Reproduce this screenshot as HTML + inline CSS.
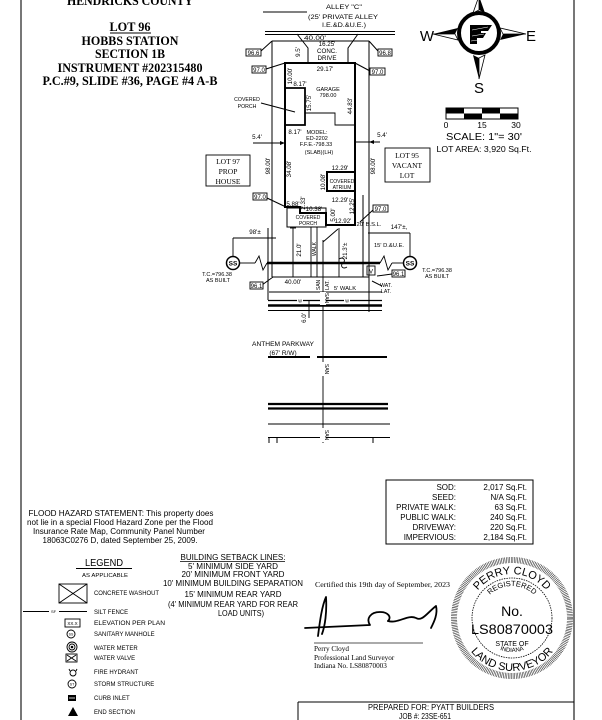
<!DOCTYPE html>
<html><head><meta charset="utf-8">
<style>
html,body{margin:0;padding:0;background:#fff;}
svg{display:block}
text{font-family:"Liberation Sans",Arial,sans-serif;fill:#000}
.s text,text.s{font-family:"Liberation Serif","Times New Roman",serif}
</style></head><body>
<svg width="602" height="720" viewBox="0 0 602 720" xmlns="http://www.w3.org/2000/svg">
<defs>
<path id="pTop" d="M468,618 A44,44 0 0 1 556,618"/>
<path id="pBot" d="M459,618 A53,53 0 0 0 565,618"/>
<path id="pReg" d="M480,618 A32,32 0 0 1 544,618"/>
<path id="pInd" d="M478,618 A34,34 0 0 0 546,618"/>
</defs>
<rect width="602" height="720" fill="#fff"/>
<line x1="21" y1="0" x2="21" y2="720" stroke="#777" stroke-width="2"/>
<line x1="574" y1="0" x2="574" y2="720" stroke="#777" stroke-width="2"/>

<!-- Title -->
<g class="s" font-weight="bold" text-anchor="middle" font-size="12.5">
<text x="130" y="5" textLength="126" lengthAdjust="spacingAndGlyphs">HENDRICKS COUNTY</text>
<text x="130" y="31" textLength="41" lengthAdjust="spacingAndGlyphs">LOT 96</text>
<text x="130" y="45" textLength="97" lengthAdjust="spacingAndGlyphs">HOBBS STATION</text>
<text x="130" y="58" textLength="70" lengthAdjust="spacingAndGlyphs">SECTION 1B</text>
<text x="130" y="72" textLength="145" lengthAdjust="spacingAndGlyphs">INSTRUMENT #202315480</text>
<text x="130" y="85" textLength="175" lengthAdjust="spacingAndGlyphs">P.C.#9, SLIDE #36, PAGE #4 A-B</text>
</g>
<line x1="110" y1="33" x2="151" y2="33" stroke="#000" stroke-width="1"/>

<!-- Compass -->
<g>
<circle cx="479" cy="33" r="20" fill="none" stroke="#000" stroke-width="4"/>
<circle cx="479" cy="33" r="17" fill="#fff"/>
<polygon points="479,-4 473,13 479,10" fill="#fff" stroke="#000" stroke-width="0.8"/>
<polygon points="479,-4 485,13 479,10" fill="#000"/>
<polygon points="433,34 458,28 455,34" fill="#000"/>
<polygon points="433,34 455,34 458,40" fill="#fff" stroke="#000" stroke-width="0.8"/>
<polygon points="526,34 500,28 503,34" fill="#fff" stroke="#000" stroke-width="0.8"/>
<polygon points="526,34 503,34 500,40" fill="#000"/>
<polygon points="479,79 473,55 479,58" fill="#000"/>
<polygon points="479,79 485,55 479,58" fill="#fff" stroke="#000" stroke-width="0.8"/>
<path d="M470,25 L492,25 L488,31 L481,31 L481,33 L486,33 L483,38 L477,38 L477,44 L470,44 Z" fill="#000"/>
<line x1="472" y1="30" x2="488" y2="27" stroke="#fff" stroke-width="0.6"/>
<line x1="472" y1="36" x2="484" y2="34" stroke="#fff" stroke-width="0.6"/>
<line x1="471" y1="41" x2="478" y2="40" stroke="#fff" stroke-width="0.6"/>
<text x="427" y="41" font-size="15" text-anchor="middle">W</text>
<text x="531" y="41" font-size="15" text-anchor="middle">E</text>
<text x="479" y="93" font-size="15" text-anchor="middle">S</text>
</g>

<!-- Scale bar -->
<g stroke="none">
<rect x="446" y="108" width="72" height="11" fill="#fff" stroke="#000" stroke-width="1"/>
<rect x="446" y="108" width="18" height="5.5" fill="#000"/>
<rect x="482" y="108" width="18" height="5.5" fill="#000"/>
<rect x="464" y="113.5" width="18" height="5.5" fill="#000"/>
<rect x="500" y="113.5" width="18" height="5.5" fill="#000"/>
</g>
<text x="446" y="128" font-size="8.5" text-anchor="middle">0</text>
<text x="482" y="128" font-size="8.5" text-anchor="middle">15</text>
<text x="516" y="128" font-size="8.5" text-anchor="middle">30</text>
<text x="484" y="140" font-size="10" text-anchor="middle" textLength="76" lengthAdjust="spacingAndGlyphs">SCALE:  1"=  30'</text>
<text x="484" y="152" font-size="8.5" text-anchor="middle" textLength="95" lengthAdjust="spacingAndGlyphs">LOT AREA: 3,920 Sq.Ft.</text>

<!-- Alley -->
<line x1="263" y1="12" x2="307" y2="12" stroke="#000" stroke-width="0.9"/>
<g font-size="6.5" text-anchor="middle">
<text x="344" y="9" textLength="36" lengthAdjust="spacingAndGlyphs">ALLEY "C"</text>
<text x="343" y="19" textLength="70" lengthAdjust="spacingAndGlyphs">(25' PRIVATE ALLEY</text>
<text x="344" y="27" textLength="44" lengthAdjust="spacingAndGlyphs">I.E.&amp;D.&amp;U.E.)</text>
<text x="315" y="40" textLength="22" lengthAdjust="spacingAndGlyphs">40.00'</text>
</g>
<line x1="265" y1="31.5" x2="395" y2="31.5" stroke="#000" stroke-width="0.9"/>
<line x1="265" y1="34.5" x2="395" y2="34.5" stroke="#000" stroke-width="0.9"/>

<!-- Lot lines -->
<g stroke="#000" stroke-width="1" fill="none">
<line x1="272" y1="41" x2="369" y2="41"/>
<line x1="272" y1="41" x2="272" y2="277"/>
<line x1="369" y1="41" x2="369" y2="312"/>
<line x1="363" y1="195" x2="363" y2="277"/>
<line x1="268" y1="228" x2="268" y2="300"/>
<line x1="272" y1="277" x2="369" y2="277"/>
<polyline points="297,34 308,48 308,63"/>
<polyline points="358,34 348,48 348,63"/>
<line x1="261" y1="51" x2="272" y2="41"/>
<line x1="369" y1="41" x2="378" y2="51"/>
<line x1="266" y1="69" x2="285" y2="63"/>
<line x1="355" y1="63" x2="370" y2="71"/>
<line x1="267" y1="198" x2="286" y2="207"/>
<line x1="373" y1="210" x2="360" y2="222"/>
<line x1="262" y1="285" x2="273" y2="277"/>
<line x1="392" y1="274" x2="377" y2="276"/>
<line x1="261" y1="103" x2="295" y2="112"/>
<line x1="372" y1="281" x2="382" y2="286"/>
<line x1="253" y1="143" x2="285" y2="143"/>
<line x1="356" y1="142" x2="380" y2="142"/>
</g>
<polygon points="369,142 374,140 374,144" fill="#000"/>
<polygon points="285,143 280,141 280,145" fill="#000"/>

<!-- House -->
<g stroke="#000" fill="none">
<path d="M285,63 H355 V225 H326 V213 H300 V207 H285 Z" stroke-width="2"/>
<path d="M285,88 H305 V125 H285" stroke-width="1.8"/>
<path d="M305,113 H335 V125 H355" stroke-width="0.9"/>
<path d="M355,172 H327 V191 H355" stroke-width="2"/>
<rect x="287" y="208" width="39" height="19" stroke-width="1"/>
</g>

<!-- Elevation boxes -->
<g font-size="6" text-anchor="middle">
<rect x="246" y="49" width="15" height="7" fill="#fff" stroke="#000" stroke-width="0.9"/><text x="253.5" y="55">96.6</text>
<rect x="378" y="49" width="14" height="7" fill="#fff" stroke="#000" stroke-width="0.9"/><text x="385" y="55">96.8</text>
<rect x="252" y="66" width="14" height="7" fill="#fff" stroke="#000" stroke-width="0.9"/><text x="259" y="72">97.0</text>
<rect x="370" y="68" width="15" height="7" fill="#fff" stroke="#000" stroke-width="0.9"/><text x="377.5" y="74">97.0</text>
<rect x="253" y="193" width="14" height="7" fill="#fff" stroke="#000" stroke-width="0.9"/><text x="260" y="199">97.0</text>
<rect x="373" y="205" width="15" height="7" fill="#fff" stroke="#000" stroke-width="0.9"/><text x="380.5" y="211">97.0</text>
<rect x="250" y="282" width="13" height="7" fill="#fff" stroke="#000" stroke-width="0.9"/><text x="256.5" y="288">96.1</text>
<rect x="392" y="270" width="13" height="7" fill="#fff" stroke="#000" stroke-width="0.9"/><text x="398.5" y="276">96.1</text>
</g>

<!-- Plat labels -->
<g font-size="6.2" text-anchor="middle">
<text x="327" y="46">16.25'</text>
<text x="327" y="53">CONC.</text>
<text x="327" y="60">DRIVE</text>
<text transform="translate(300,52) rotate(-90)">9.5'</text>
<text x="325" y="71">29.17'</text>
<text transform="translate(292,76) rotate(-90)">10.00'</text>
<text x="300" y="86">8.17'</text>
<text x="328" y="91" font-size="5.5">GARAGE</text>
<text x="328" y="97" font-size="5.5">798.00</text>
<text transform="translate(311,103) rotate(-90)">15.75'</text>
<text transform="translate(352,106) rotate(-90)">44.83'</text>
<text x="247" y="101" font-size="5.2">COVERED</text>
<text x="247" y="108" font-size="5.2">PORCH</text>
<text x="295" y="134">8.17'</text>
<text x="317" y="134" font-size="5.5">MODEL:</text>
<text x="317" y="140" font-size="5.5">ED-2202</text>
<text x="316" y="146" font-size="5.5">F.F.E.-798.33</text>
<text x="319" y="154" font-size="5.5">(SLAB)(LH)</text>
<text x="257" y="139">5.4'</text>
<text x="382" y="137">5.4'</text>
<text transform="translate(291,169) rotate(-90)">34.08'</text>
<text transform="translate(270,166) rotate(-90)">98.00'</text>
<text transform="translate(375,166) rotate(-90)">98.00'</text>
<text x="340" y="170">12.29'</text>
<text transform="translate(325,182) rotate(-90)">10.08'</text>
<text x="342" y="183" font-size="5">COVERED</text>
<text x="342" y="189" font-size="5">ATRIUM</text>
<text x="340" y="202">12.29'</text>
<text transform="translate(354,206) rotate(-90)">12.25'</text>
<text x="293" y="206">5.88'</text>
<text transform="translate(305,203) rotate(-90)">2.33'</text>
<text x="314" y="211">10.38'</text>
<text x="308" y="219" font-size="5">COVERED</text>
<text x="308" y="225" font-size="5">PORCH</text>
<text transform="translate(335,215) rotate(-90)">5.00'</text>
<text x="343" y="223">12.92'</text>
<text x="369" y="226" font-size="5.8">20' B.S.L.</text>
<text x="399" y="229">147'±,</text>
<text x="255" y="234">98'±</text>
<text x="389" y="247" font-size="5.8">15' D.&amp;U.E.</text>
<text transform="translate(301,250) rotate(-90)">21.0'</text>
<text transform="translate(316,249) rotate(-90)" font-size="5">WALK</text>
<text transform="translate(347,251) rotate(-90)">21.3'±</text>
<text x="217" y="276" font-size="5.5">T.C.=796.38</text>
<text x="218" y="282" font-size="5.5">AS BUILT</text>
<text x="437" y="272" font-size="5.5">T.C.=796.38</text>
<text x="437" y="278" font-size="5.5">AS BUILT</text>
<text x="293" y="284">40.00'</text>
<text transform="translate(320,285) rotate(-90)" font-size="5">SAN</text>
<text transform="translate(329,285) rotate(-90)" font-size="5">LAT.</text>
<text x="345" y="290" font-size="5.8">5' WALK</text>
<text x="386" y="287" font-size="5.2">WAT.</text>
<text x="386" y="293" font-size="5.2">LAT.</text>
<text transform="translate(306,318) rotate(-90)">6.0'</text>
<text x="283" y="346" font-size="6.5" textLength="62" lengthAdjust="spacingAndGlyphs">ANTHEM PARKWAY</text>
<text x="283" y="355" font-size="6.5">(67' R/W)</text>
</g>

<!-- Lot boxes -->
<g class="s" font-size="7.5" text-anchor="middle">
<rect x="206" y="155" width="44" height="31" fill="#fff" stroke="#000" stroke-width="0.9"/>
<text x="228" y="164">LOT 97</text>
<text x="228" y="174">PROP</text>
<text x="228" y="184">HOUSE</text>
<rect x="385" y="148" width="45" height="34" fill="#fff" stroke="#000" stroke-width="0.9"/>
<text x="407" y="158">LOT 95</text>
<text x="407" y="168">VACANT</text>
<text x="407" y="178">LOT</text>
</g>

<!-- Lower dims & utilities -->
<g stroke="#000" stroke-width="0.9" fill="none">
<line x1="233" y1="238" x2="276" y2="238"/>
<line x1="233" y1="238" x2="233" y2="256"/>
<line x1="368" y1="233" x2="410" y2="233"/>
<line x1="410" y1="233" x2="410" y2="256"/>
<line x1="293" y1="228" x2="293" y2="277"/>
<line x1="290" y1="228" x2="296" y2="228"/>
<line x1="311" y1="227" x2="311" y2="277"/>
<line x1="317" y1="227" x2="317" y2="277"/>
<line x1="339" y1="228" x2="339" y2="277"/>
<line x1="323" y1="242" x2="338" y2="229"/>
<line x1="323" y1="240" x2="323" y2="443"/>
<line x1="240" y1="263" x2="255" y2="263"/>
<polyline points="255,263 259,256 263,270 267,263"/>
<polyline points="380,263 384,256 388,270 392,263"/>
<line x1="392" y1="263" x2="404" y2="263"/>
<line x1="269" y1="292" x2="382" y2="292"/>
<path d="M339,259 C344,256 346,261 343,263 C340,265 342,270 347,267"/>
<rect x="367" y="266" width="8" height="9"/>
<line x1="309" y1="300" x2="309" y2="318"/>
</g>
<line x1="267" y1="263" x2="380" y2="263" stroke="#000" stroke-width="2.5"/>
<text x="371" y="273.5" font-size="6" text-anchor="middle">V</text>
<circle cx="233" cy="263" r="6.5" fill="#fff" stroke="#000" stroke-width="1.5"/>
<circle cx="410" cy="263" r="6.5" fill="#fff" stroke="#000" stroke-width="1.5"/>
<text x="233" y="265.5" font-size="6.5" font-weight="bold" text-anchor="middle">SS</text>
<text x="410" y="265.5" font-size="6.5" font-weight="bold" text-anchor="middle">SS</text>

<!-- Road -->
<g stroke="#000" fill="none">
<line x1="268" y1="300.5" x2="382" y2="300.5" stroke-width="1.2"/>
<line x1="268" y1="305.5" x2="382" y2="305.5" stroke-width="2.5"/>
<line x1="268" y1="310.5" x2="382" y2="310.5" stroke-width="1"/>
<line x1="268" y1="357" x2="310" y2="357" stroke-width="2"/>
<line x1="317" y1="357" x2="387" y2="357" stroke-width="2"/>
<line x1="268" y1="404" x2="388" y2="404" stroke-width="2.2"/>
<line x1="268" y1="408.5" x2="388" y2="408.5" stroke-width="2.2"/>
<line x1="268" y1="424" x2="390" y2="424" stroke-width="1"/>
<line x1="268" y1="437.5" x2="390" y2="437.5" stroke-width="1"/>
<line x1="269" y1="437" x2="269" y2="443" stroke-width="1"/>
<line x1="277" y1="437" x2="277" y2="443" stroke-width="1"/>
<line x1="373" y1="437" x2="373" y2="443" stroke-width="1"/>
</g>
<rect x="297" y="298" width="6" height="5" fill="#fff"/>
<rect x="344" y="298" width="6" height="5" fill="#fff"/>
<text x="300" y="302.5" font-size="5" text-anchor="middle">w</text>
<text x="347" y="302.5" font-size="5" text-anchor="middle">w</text>
<rect x="320" y="362" width="6" height="14" fill="#fff"/>
<rect x="320" y="428" width="6" height="14" fill="#fff"/>
<rect x="320" y="292" width="6" height="13" fill="#fff"/>
<text transform="translate(325,369) rotate(90)" font-size="5" text-anchor="middle">SAN</text>
<text transform="translate(325,435) rotate(90)" font-size="5" text-anchor="middle">SAN</text>
<text transform="translate(325,298) rotate(90)" font-size="5" text-anchor="middle">SAN</text>

<!-- Flood statement -->
<g font-size="8" text-anchor="middle">
<text x="121" y="516" textLength="185" lengthAdjust="spacingAndGlyphs">FLOOD HAZARD STATEMENT: This property does</text>
<text x="120" y="525" textLength="186" lengthAdjust="spacingAndGlyphs">not lie in a special Flood Hazard Zone per the Flood</text>
<text x="119" y="534" textLength="172" lengthAdjust="spacingAndGlyphs">Insurance Rate Map, Community Panel Number</text>
<text x="120" y="543" textLength="155" lengthAdjust="spacingAndGlyphs">18063C0276 D, dated September 25, 2009.</text>
</g>

<!-- Area table -->
<rect x="386" y="480" width="147" height="64" fill="none" stroke="#000" stroke-width="1"/>
<g font-size="8" text-anchor="end">
<text x="456" y="490">SOD:</text><text x="527" y="490">2,017 Sq.Ft.</text>
<text x="456" y="500">SEED:</text><text x="527" y="500">N/A Sq.Ft.</text>
<text x="456" y="510">PRIVATE WALK:</text><text x="527" y="510">63 Sq.Ft.</text>
<text x="456" y="520">PUBLIC WALK:</text><text x="527" y="520">240 Sq.Ft.</text>
<text x="456" y="530">DRIVEWAY:</text><text x="527" y="530">220 Sq.Ft.</text>
<text x="456" y="540">IMPERVIOUS:</text><text x="527" y="540">2,184 Sq.Ft.</text>
</g>

<!-- Legend -->
<text x="104" y="566" font-size="10" text-anchor="middle" textLength="38" lengthAdjust="spacingAndGlyphs">LEGEND</text>
<line x1="76" y1="568.5" x2="132" y2="568.5" stroke="#000" stroke-width="1"/>
<text x="105" y="577" font-size="5.5" text-anchor="middle" textLength="46" lengthAdjust="spacingAndGlyphs">AS APPLICABLE</text>
<g stroke="#000" fill="none" stroke-width="0.9">
<rect x="59" y="584" width="28" height="19"/>
<line x1="59" y1="584" x2="87" y2="603"/>
<line x1="87" y1="584" x2="59" y2="603"/>
<line x1="23" y1="611.5" x2="49" y2="611.5"/>
<line x1="59" y1="611.5" x2="87" y2="611.5"/>
<rect x="65" y="619" width="15" height="8"/>
<circle cx="71" cy="634" r="4"/>
<circle cx="72" cy="647" r="5"/>
<circle cx="72" cy="647" r="3"/>
<rect x="66" y="654" width="11" height="8"/>
<path d="M67,655 L76,661 M67,661 L76,655"/>
<circle cx="73" cy="673" r="3"/>
<path d="M69,669 L70,671 M77,669 L76,671"/>
<circle cx="72" cy="684" r="4"/>
</g>
<circle cx="72" cy="647" r="1.3" fill="#000"/>
<rect x="68" y="695" width="8" height="6" fill="#000"/>
<line x1="69" y1="698" x2="75" y2="698" stroke="#fff" stroke-width="0.8"/>
<polygon points="73,707 78,716 68,716" fill="#000"/>
<g font-size="4" text-anchor="middle">
<text x="53.5" y="613">SF</text>
<text x="72.5" y="625" font-size="4.5">XX.X</text>
<text x="71" y="635.5" font-size="3.5">SS</text>
<text x="72" y="685.5" font-size="3.5">ST</text>
</g>
<g font-size="6">
<text x="94" y="595" textLength="65" lengthAdjust="spacingAndGlyphs">CONCRETE WASHOUT</text>
<text x="94" y="614">SILT FENCE</text>
<text x="94" y="625" textLength="71" lengthAdjust="spacingAndGlyphs">ELEVATION PER PLAN</text>
<text x="94" y="636">SANITARY MANHOLE</text>
<text x="94" y="650">WATER METER</text>
<text x="94" y="660">WATER VALVE</text>
<text x="94" y="674">FIRE HYDRANT</text>
<text x="94" y="686">STORM STRUCTURE</text>
<text x="94" y="700">CURB INLET</text>
<text x="94" y="714">END SECTION</text>
</g>

<!-- Setback -->
<g font-size="8" text-anchor="middle">
<text x="233" y="560" textLength="105" lengthAdjust="spacingAndGlyphs">BUILDING SETBACK LINES:</text>
<text x="233" y="569" textLength="90" lengthAdjust="spacingAndGlyphs">5' MINIMUM SIDE YARD</text>
<text x="233" y="577" textLength="103" lengthAdjust="spacingAndGlyphs">20' MINIMUM FRONT YARD</text>
<text x="233" y="586" textLength="140" lengthAdjust="spacingAndGlyphs">10' MINIMUM BUILDING SEPARATION</text>
<text x="233" y="597" textLength="97" lengthAdjust="spacingAndGlyphs">15' MINIMUM REAR YARD</text>
<text x="233" y="607" textLength="130" lengthAdjust="spacingAndGlyphs">(4' MINIMUM REAR YARD FOR REAR</text>
<text x="241" y="616" textLength="46" lengthAdjust="spacingAndGlyphs">LOAD UNITS)</text>
</g>
<line x1="180" y1="561.5" x2="285" y2="561.5" stroke="#000" stroke-width="0.8"/>

<!-- Certification -->
<g class="s" font-size="7.2">
<text x="315" y="587" textLength="135" lengthAdjust="spacingAndGlyphs">Certified this 19th day of September, 2023</text>
<text x="314" y="651">Perry Cloyd</text>
<text x="314" y="660">Professional Land Surveyor</text>
<text x="314" y="668">Indiana No. LS80870003</text>
</g>
<line x1="314" y1="643" x2="423" y2="643" stroke="#555" stroke-width="1"/>
<g fill="none" stroke="#000" stroke-width="1.8" stroke-linecap="round" stroke-linejoin="round">
<path d="M318,636 C320,620 322,606 326,597 C327,612 325,626 322,634"/>
<path d="M305,628 C325,627 350,626 370,625 C366,619 370,612 380,612 C388,612 392,617 388,621"/>
<path d="M388,621 C398,624 408,614 416,618 C422,622 428,612 436,606 C438,614 434,622 431,628"/>
</g>

<!-- Seal -->
<g>
<circle cx="512" cy="618" r="58" fill="#fff" stroke="#333" stroke-width="6" stroke-dasharray="0.6 1.0"/>
<circle cx="512" cy="618" r="40" fill="none" stroke="#000" stroke-width="0.8" stroke-dasharray="1.5 1"/>
<text font-size="11"><textPath href="#pTop" startOffset="50%" text-anchor="middle">PERRY CLOYD</textPath></text>
<text font-size="11"><textPath href="#pBot" startOffset="50%" text-anchor="middle">LAND SURVEYOR</textPath></text>
<text font-size="7.5"><textPath href="#pReg" startOffset="50%" text-anchor="middle">REGISTERED</textPath></text>
<text font-size="6"><textPath href="#pInd" startOffset="50%" text-anchor="middle">INDIANA</textPath></text>
<text x="512" y="616" font-size="14" text-anchor="middle">No.</text>
<text x="512" y="634" font-size="14" text-anchor="middle" textLength="82" lengthAdjust="spacingAndGlyphs">LS80870003</text>
<text x="512" y="646" font-size="7" text-anchor="middle">STATE OF</text>
</g>

<!-- Prepared for -->
<line x1="298" y1="702" x2="574" y2="702" stroke="#000" stroke-width="1"/>
<line x1="298" y1="702" x2="298" y2="720" stroke="#000" stroke-width="1"/>
<text x="431" y="710" font-size="8" text-anchor="middle" textLength="126" lengthAdjust="spacingAndGlyphs">PREPARED FOR: PYATT BUILDERS</text>
<text x="425" y="719" font-size="8" text-anchor="middle" textLength="52" lengthAdjust="spacingAndGlyphs">JOB #: 23SE-651</text>
</svg>
</body></html>
